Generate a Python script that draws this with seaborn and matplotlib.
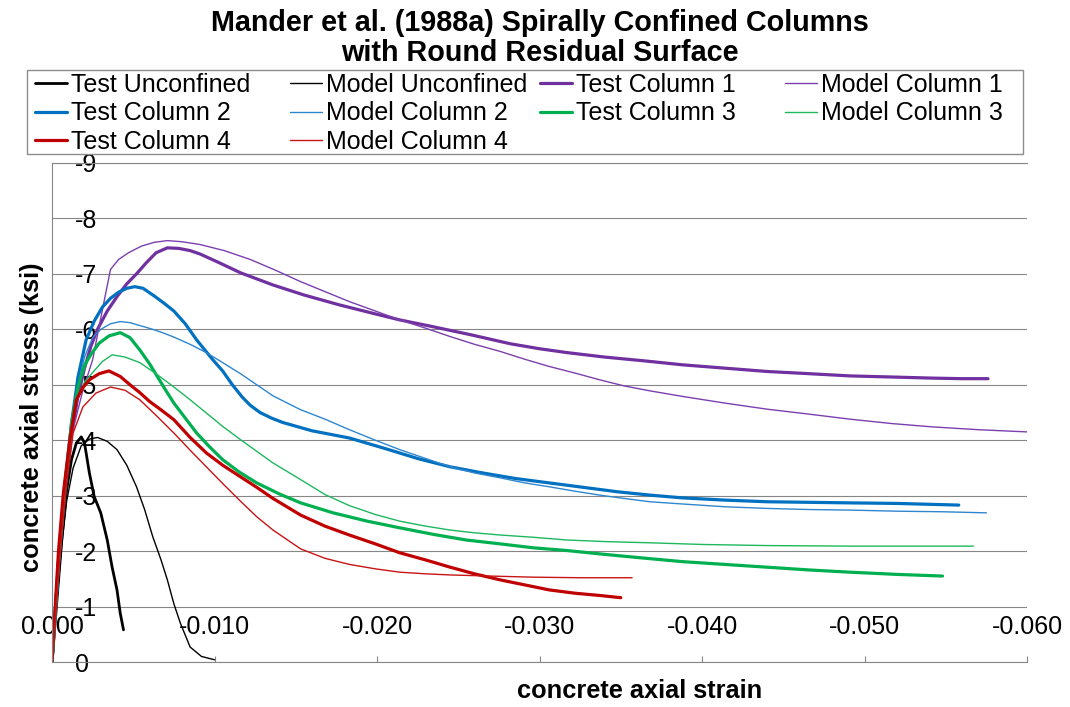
import matplotlib
matplotlib.use("Agg")
import matplotlib.pyplot as plt
from matplotlib.patches import Rectangle
import seaborn as sns

# ---------------- data (strain, stress in ksi) ----------------
test_unconf_x = [0, -0.0003, -0.0006, -0.0009, -0.0012, -0.0015, -0.0018, -0.0020, -0.0023, -0.0026,
                 -0.0030, -0.0034, -0.0037, -0.0040, -0.0042, -0.0044]
test_unconf_y = [0, -1.1, -2.2, -3.1, -3.65, -3.95, -4.06, -3.95, -3.41, -2.98,
                 -2.69, -2.2, -1.71, -1.3, -0.88, -0.58]

model_unconf_x = [0, -0.0003, -0.0006, -0.0009, -0.0013, -0.0018, -0.0023, -0.0028, -0.0034, -0.0040,
                  -0.0046, -0.0052, -0.0057, -0.0062, -0.0067, -0.0071, -0.0075, -0.0079, -0.0085,
                  -0.0092, -0.0100]
model_unconf_y = [0, -1.1, -2.1, -2.9, -3.5, -3.9, -4.02, -4.05, -3.98, -3.83,
                  -3.55, -3.16, -2.75, -2.26, -1.85, -1.48, -1.05, -0.7, -0.27,
                  -0.1, -0.04]

test_c1_x = [0, -0.0004, -0.0008, -0.0012, -0.0016, -0.0020, -0.0024, -0.0028, -0.0034, -0.0040,
             -0.0046, -0.0052, -0.0058, -0.0064, -0.0071, -0.0078, -0.0085, -0.0091, -0.0103, -0.0116,
             -0.0136, -0.0155, -0.0177, -0.0196, -0.0214, -0.0234, -0.0258, -0.0282, -0.0300, -0.0317,
             -0.0340, -0.0365, -0.0388, -0.0414, -0.0440, -0.0466, -0.0491, -0.0517, -0.0542, -0.0560,
             -0.0576]
test_c1_y = [0, -1.8, -3.1, -4.1, -4.8, -5.3, -5.7, -6.0, -6.33, -6.59,
             -6.82, -7.0, -7.2, -7.38, -7.47, -7.46, -7.42, -7.36, -7.2, -7.02,
             -6.8, -6.62, -6.44, -6.3, -6.17, -6.05, -5.9, -5.74, -5.65, -5.58,
             -5.5, -5.43, -5.36, -5.3, -5.24, -5.2, -5.16, -5.14, -5.12, -5.11,
             -5.11]

model_c1_x = [0, -0.0004, -0.0008, -0.0013, -0.0019, -0.0025, -0.0031, -0.0036, -0.0041, -0.0047,
              -0.0055, -0.0063, -0.0071, -0.0080, -0.0091, -0.0106, -0.0122, -0.0138, -0.0153, -0.0168,
              -0.0183, -0.0199, -0.0214, -0.0230, -0.0245, -0.0260, -0.0276, -0.0291, -0.0306, -0.0322,
              -0.0337, -0.0352, -0.0368, -0.0388, -0.0414, -0.0440, -0.0466, -0.0491, -0.0517, -0.0542,
              -0.0570, -0.0600]
model_c1_y = [0, -1.8, -3.1, -4.2, -4.9, -5.45, -6.35, -7.08, -7.26, -7.38,
              -7.5, -7.57, -7.6, -7.58, -7.53, -7.42, -7.26, -7.06, -6.86, -6.68,
              -6.5, -6.33, -6.17, -6.02, -5.87, -5.73, -5.6, -5.46, -5.33, -5.21,
              -5.09, -4.98, -4.89, -4.79, -4.67, -4.56, -4.47, -4.38, -4.3, -4.24,
              -4.19, -4.15]

test_c2_x = [0, -0.0004, -0.0008, -0.0012, -0.0016, -0.0021, -0.0026, -0.0031, -0.0036, -0.0041,
             -0.0046, -0.0051, -0.0056, -0.0063, -0.0069, -0.0075, -0.0082, -0.0089, -0.0094, -0.0099,
             -0.0105, -0.0111, -0.0117, -0.0122, -0.0128, -0.0135, -0.0142, -0.0160, -0.0183, -0.0205,
             -0.0225, -0.0245, -0.0265, -0.0285, -0.0306, -0.0327, -0.0348, -0.0368, -0.0388, -0.0414,
             -0.0440, -0.0466, -0.0491, -0.0520, -0.0558]
test_c2_y = [0, -1.8, -3.2, -4.3, -5.14, -5.81, -6.15, -6.4, -6.56, -6.67,
             -6.74, -6.77, -6.74, -6.6, -6.47, -6.33, -6.1, -5.81, -5.63, -5.45,
             -5.25, -5.0, -4.78, -4.63, -4.5, -4.4, -4.32, -4.17, -4.04, -3.85,
             -3.67, -3.52, -3.41, -3.31, -3.23, -3.15, -3.07, -3.01, -2.96, -2.92,
             -2.89, -2.88, -2.87, -2.86, -2.83]

model_c2_x = [0, -0.0004, -0.0008, -0.0012, -0.0016, -0.0020, -0.0025, -0.0030, -0.0036, -0.0042,
              -0.0048, -0.0055, -0.0062, -0.0068, -0.0075, -0.0085, -0.0095, -0.0105, -0.0116, -0.0126,
              -0.0136, -0.0153, -0.0168, -0.0183, -0.0199, -0.0214, -0.0230, -0.0245, -0.0260, -0.0276,
              -0.0291, -0.0306, -0.0322, -0.0337, -0.0352, -0.0368, -0.0388, -0.0414, -0.0440, -0.0466,
              -0.0491, -0.0520, -0.0548, -0.0575]
model_c2_y = [0, -1.8, -3.2, -4.3, -5.0, -5.5, -5.85, -6.0, -6.1, -6.14,
              -6.12, -6.06, -6.0, -5.94, -5.86, -5.73, -5.58, -5.4, -5.2, -5.0,
              -4.8, -4.55, -4.38, -4.19, -4.0, -3.83, -3.67, -3.52, -3.41, -3.32,
              -3.23, -3.16, -3.08, -3.01, -2.95, -2.89, -2.85, -2.8, -2.77, -2.75,
              -2.74, -2.72, -2.71, -2.69]

test_c3_x = [0, -0.0004, -0.0008, -0.0012, -0.0016, -0.0020, -0.0024, -0.0029, -0.0035, -0.0042,
             -0.0048, -0.0054, -0.0060, -0.0065, -0.0070, -0.0075, -0.0082, -0.0089, -0.0097, -0.0105,
             -0.0115, -0.0126, -0.0140, -0.0153, -0.0173, -0.0194, -0.0214, -0.0235, -0.0255, -0.0276,
             -0.0296, -0.0317, -0.0337, -0.0362, -0.0388, -0.0414, -0.0440, -0.0466, -0.0491, -0.0520,
             -0.0548]
test_c3_y = [0, -1.8, -3.2, -4.3, -4.96, -5.35, -5.55, -5.75, -5.88, -5.94,
             -5.85, -5.63, -5.38, -5.14, -4.9, -4.67, -4.4, -4.13, -3.88, -3.65,
             -3.43, -3.23, -3.03, -2.87, -2.69, -2.54, -2.42, -2.3, -2.2, -2.13,
             -2.06, -2.01, -1.95, -1.88, -1.81, -1.76, -1.71, -1.66, -1.62, -1.58,
             -1.55]

model_c3_x = [0, -0.0004, -0.0008, -0.0012, -0.0016, -0.0020, -0.0025, -0.0031, -0.0037, -0.0045,
              -0.0054, -0.0064, -0.0075, -0.0085, -0.0095, -0.0105, -0.0116, -0.0126, -0.0136, -0.0153,
              -0.0168, -0.0183, -0.0199, -0.0214, -0.0230, -0.0245, -0.0260, -0.0276, -0.0296, -0.0317,
              -0.0342, -0.0368, -0.0400, -0.0440, -0.0491, -0.0530, -0.0567]
model_c3_y = [0, -1.8, -3.2, -4.2, -4.8, -5.05, -5.22, -5.42, -5.54, -5.5,
              -5.4, -5.2, -4.96, -4.73, -4.49, -4.25, -4.01, -3.8, -3.59, -3.29,
              -3.02, -2.82, -2.66, -2.54, -2.45, -2.38, -2.33, -2.29, -2.25, -2.2,
              -2.17, -2.15, -2.12, -2.1, -2.09, -2.09, -2.09]

test_c4_x = [0, -0.0002, -0.0004, -0.0007, -0.0011, -0.0015, -0.0019, -0.0023, -0.0029, -0.0035,
             -0.0042, -0.0048, -0.0054, -0.0060, -0.0067, -0.0075, -0.0085, -0.0095, -0.0105, -0.0116,
             -0.0126, -0.0136, -0.0153, -0.0168, -0.0183, -0.0199, -0.0214, -0.0230, -0.0245, -0.0260,
             -0.0276, -0.0291, -0.0306, -0.0322, -0.0337, -0.0350]
test_c4_y = [0, -1.0, -2.0, -3.05, -4.01, -4.73, -4.95, -5.09, -5.2, -5.25,
             -5.15, -5.0, -4.86, -4.7, -4.55, -4.37, -4.05, -3.77, -3.55, -3.34,
             -3.15, -2.95, -2.65, -2.45, -2.29, -2.13, -1.97, -1.84, -1.71, -1.59,
             -1.48, -1.39, -1.3, -1.24, -1.2, -1.16]

model_c4_x = [0, -0.0003, -0.0006, -0.0009, -0.0013, -0.0019, -0.0027, -0.0036, -0.0045, -0.0054,
              -0.0064, -0.0075, -0.0085, -0.0095, -0.0105, -0.0116, -0.0126, -0.0136, -0.0145, -0.0153,
              -0.0168, -0.0183, -0.0199, -0.0214, -0.0230, -0.0245, -0.0270, -0.0296, -0.0325, -0.0357]
model_c4_y = [0, -1.2, -2.3, -3.2, -4.13, -4.6, -4.85, -4.96, -4.9, -4.73,
              -4.45, -4.13, -3.82, -3.52, -3.22, -2.9, -2.62, -2.38, -2.2, -2.04,
              -1.87, -1.76, -1.68, -1.62, -1.59, -1.57, -1.55, -1.53, -1.52, -1.52]

series_names = ["Test Unconfined", "Model Unconfined", "Test Column 1", "Model Column 1",
                "Test Column 2", "Model Column 2", "Test Column 3", "Model Column 3",
                "Test Column 4", "Model Column 4"]

x_ticks = [0.0, -0.01, -0.02, -0.03, -0.04, -0.05, -0.06]
x_tick_labels = ["0.000", "-0.010", "-0.020", "-0.030", "-0.040", "-0.050", "-0.060"]
y_ticks = [0, -1, -2, -3, -4, -5, -6, -7, -8, -9]
y_tick_labels = ["0", "-1", "-2", "-3", "-4", "-5", "-6", "-7", "-8", "-9"]

title_text = "Mander et al. (1988a) Spirally Confined Columns\nwith Round Residual Surface"
x_label = "concrete axial strain"
y_label = "concrete axial stress (ksi)"

# ---------------- styling ----------------
sns.set_theme(style="white")
plt.rcParams["font.family"] = ["Liberation Sans", "DejaVu Sans"]
plt.rcParams["text.color"] = "black"
plt.rcParams["axes.labelcolor"] = "black"
plt.rcParams["xtick.color"] = "black"
plt.rcParams["ytick.color"] = "black"

W, H = 1070, 707
fig = plt.figure(figsize=(W / 100, H / 100), dpi=100)
ax = fig.add_axes([52 / W, 1 - 662 / H, (1027 - 52) / W, (662 - 163) / H])

data = [
    (test_unconf_x, test_unconf_y, "#000000", 2.0),
    (model_unconf_x, model_unconf_y, "#000000", 1.0),
    (test_c1_x, test_c1_y, "#7030A0", 2.3),
    (model_c1_x, model_c1_y, "#7B3FB0", 1.0),
    (test_c2_x, test_c2_y, "#0070C0", 2.3),
    (model_c2_x, model_c2_y, "#2E86CF", 1.0),
    (test_c3_x, test_c3_y, "#00B050", 2.3),
    (model_c3_x, model_c3_y, "#1DB85E", 1.0),
    (test_c4_x, test_c4_y, "#C00000", 2.3),
    (model_c4_x, model_c4_y, "#C81414", 1.0),
]

handles = []
for (xs, ys, col, lw), name in zip(data, series_names):
    sns.lineplot(x=xs, y=ys, ax=ax, color=col, linewidth=lw, sort=False,
                 estimator=None, label=name, legend=False)
    handles.append(ax.lines[-1])
if ax.get_legend() is not None:
    ax.get_legend().remove()

ax.set_xlim(0, -0.060)
ax.set_ylim(0, -9)

grey = "#868686"
ax.set_xticks(x_ticks)
ax.set_xticklabels(x_tick_labels)
ax.set_yticks(y_ticks)
ax.set_yticklabels(y_tick_labels, ha="left")
ax.tick_params(axis="x", direction="in", length=4.5, width=0.8, color=grey,
               pad=-33.5, labelsize=18, bottom=True, labelcolor="black")
ax.tick_params(axis="y", direction="in", length=0, pad=-16.5, labelsize=18,
               left=True, labelcolor="black")
ax.yaxis.grid(True, color=grey, linewidth=0.8)
ax.xaxis.grid(False)
for s in ["left", "bottom", "top"]:
    ax.spines[s].set_color(grey)
    ax.spines[s].set_linewidth(0.8)
ax.spines["right"].set_visible(False)
ax.set_axisbelow(True)

ax.set_xlabel(x_label, fontsize=18.3, fontweight="bold", color="black")
ax.set_ylabel(y_label, fontsize=18.3, fontweight="bold", color="black")
ax.xaxis.set_label_coords(0.603, -0.034)
ax.yaxis.set_label_coords(-0.008, 0.49)

fig.text(540 / W, 1 - 9 / H, title_text, ha="center", va="top", fontsize=20.7,
         fontweight="bold", linespacing=1.1, color="black")

# ---------------- legend (4 columns, Excel-like layout) ----------------
fs = 18
px_fs = fs * 100 / 72
col_x = [35, 290, 540, 785]
col_items = [[0, 4, 8], [1, 5, 9], [2, 6], [3, 7]]
for cx, items in zip(col_x, col_items):
    fig.legend([handles[i] for i in items], [series_names[i] for i in items],
               loc="upper left", bbox_to_anchor=(cx / W, 1 - 73 / H),
               bbox_transform=fig.transFigure, frameon=False, borderpad=0,
               borderaxespad=0, handlelength=32 / px_fs, handletextpad=4 / px_fs,
               labelspacing=0.18, fontsize=fs, labelcolor="black")
fig.patches.append(Rectangle((27 / W, 1 - 154 / H), (1023 - 27) / W, (154 - 70) / H,
                             transform=fig.transFigure, fill=False,
                             edgecolor="#8c8c8c", linewidth=1.0))

fig.savefig("out.png", dpi=100, facecolor="white")
